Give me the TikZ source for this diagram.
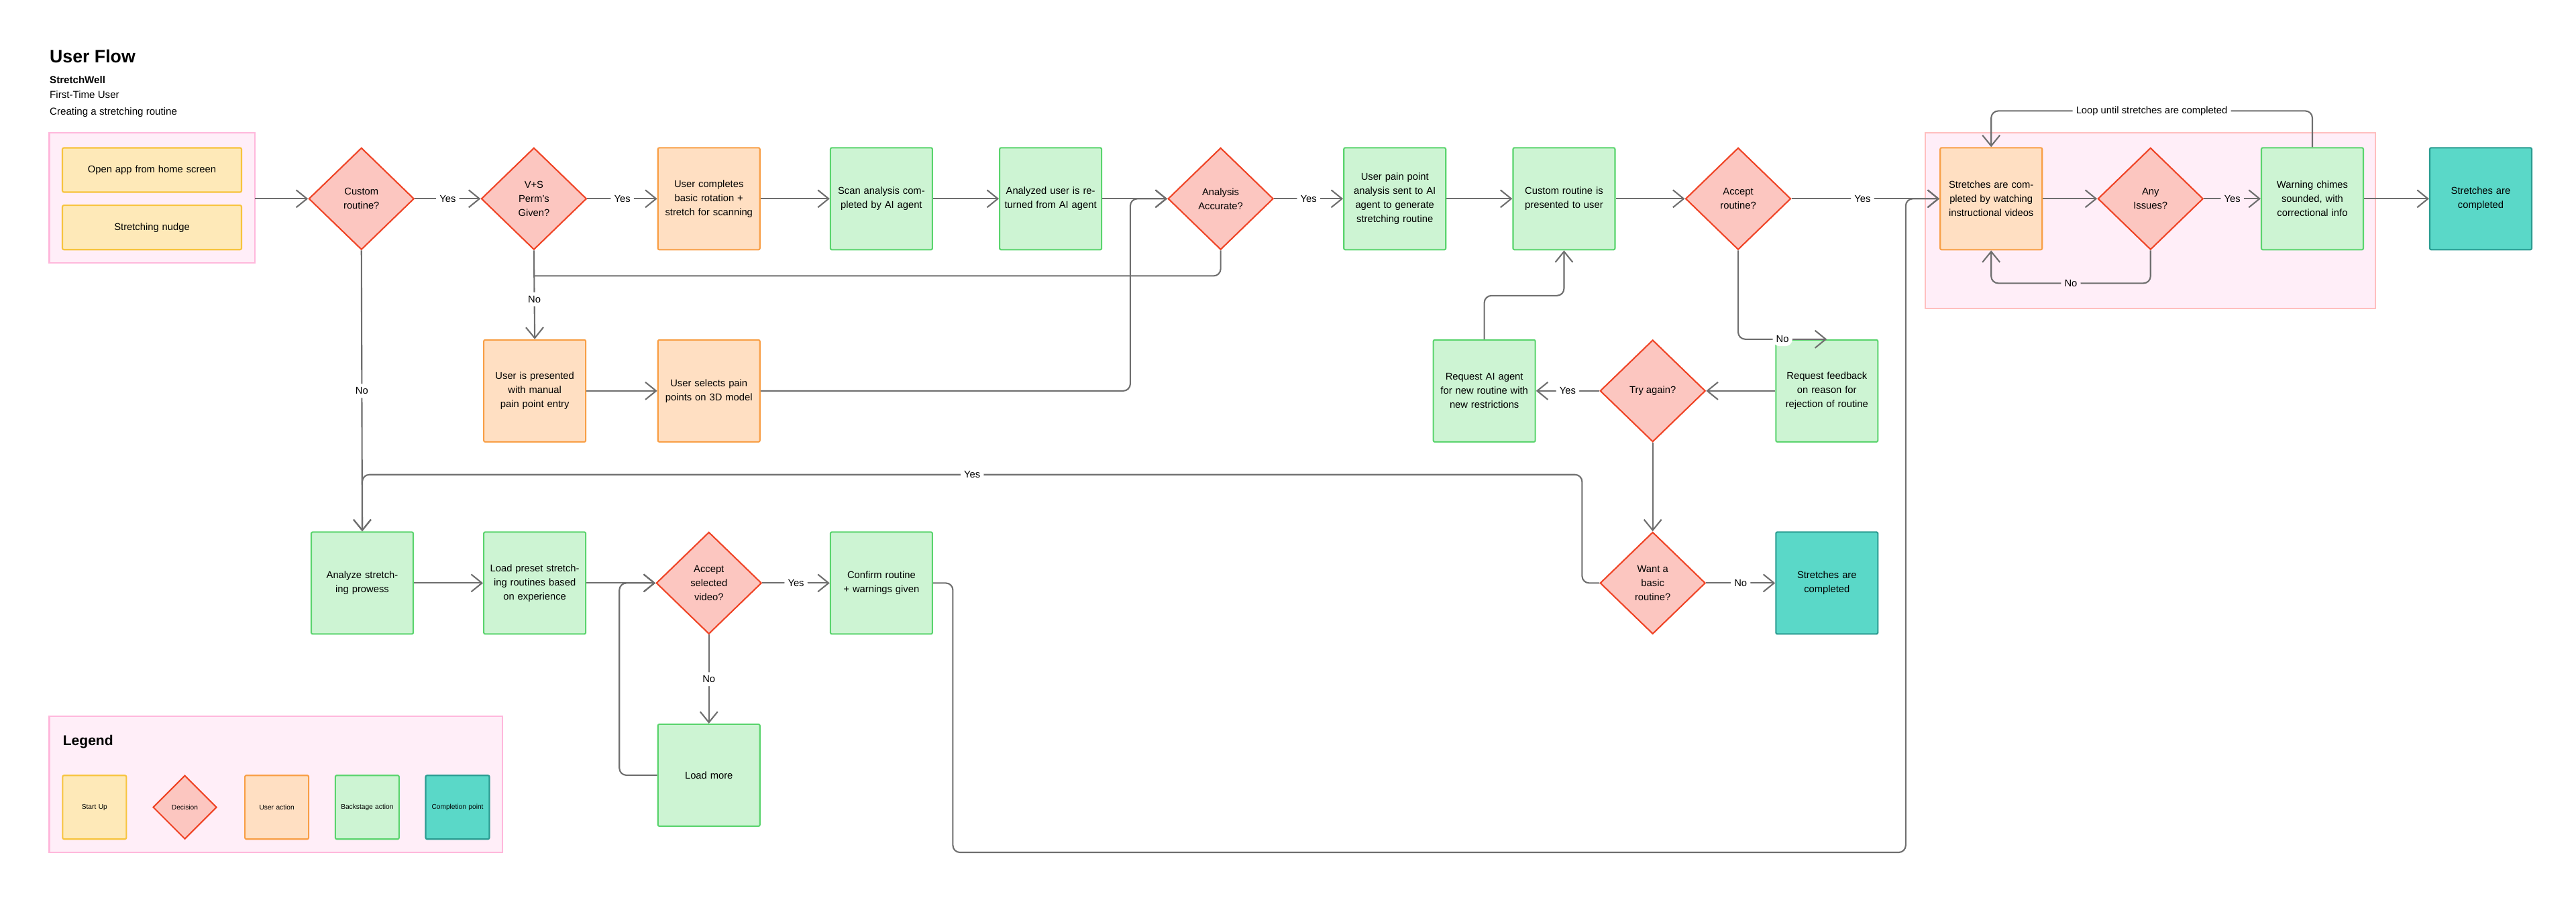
\documentclass[tikz,border=0pt]{standalone}
\usepackage{fontspec}
\setmainfont{Liberation Sans}
\usetikzlibrary{shapes.geometric,arrows.meta}
\definecolor{ylwfill}{HTML}{FEE9B8}\definecolor{ylwdraw}{HTML}{F7C43E}
\definecolor{decfill}{HTML}{FCC6C0}\definecolor{decdraw}{HTML}{EF4426}
\definecolor{usrfill}{HTML}{FFDFC2}\definecolor{usrdraw}{HTML}{F89F46}
\definecolor{bckfill}{HTML}{CDF4D3}\definecolor{bckdraw}{HTML}{5BD46E}
\definecolor{endfill}{HTML}{5AD8C8}\definecolor{enddraw}{HTML}{2A9C91}
\definecolor{grpfill}{HTML}{FFEEF8}\definecolor{grpdraw}{HTML}{FFB8DC}
\definecolor{linegray}{HTML}{6E6E6E}
\tikzset{
  txt/.style={font=\fontsize{4.2}{6}\selectfont, align=center},
  box/.style={txt, draw, line width=0.6pt, rounded corners=0.6pt, minimum width=1.52cm, minimum height=1.52cm, text width=1.38cm, inner sep=1pt},
  startup/.style={box, fill=ylwfill, draw=ylwdraw, minimum width=2.67cm, minimum height=0.66cm, text width=2.5cm},
  useract/.style={box, fill=usrfill, draw=usrdraw},
  backact/.style={box, fill=bckfill, draw=bckdraw},
  done/.style={box, fill=endfill, draw=enddraw},
  decision/.style={txt, diamond, draw=decdraw, fill=decfill, line width=0.6pt, minimum width=1.57cm, minimum height=1.52cm, inner sep=0pt},
  group/.style={draw=grpdraw, fill=grpfill, line width=0.6pt},
  flow/.style={draw=linegray, line width=0.6pt, rounded corners=3pt, -{Straight Barb[length=1.6mm,width=2.6mm]}},
  line/.style={draw=linegray, line width=0.6pt, rounded corners=3pt},
  lbl/.style={txt, fill=white, inner sep=1.5pt},
  legtxt/.style={font=\fontsize{2.9}{4.2}\selectfont, minimum width=0.95cm, minimum height=0.95cm, text width=0.85cm}
}
\begin{document}
\begin{tikzpicture}[x=0.02449cm, y=-0.02449cm]
  \useasboundingbox (0,0) rectangle (1568,549);

  % heading
  \node[anchor=base west, inner sep=0, font=\fontsize{7.6}{9}\selectfont\bfseries] at (30,38) {User Flow};
  \node[anchor=base west, inner sep=0, font=\fontsize{4.3}{5}\selectfont\bfseries] at (30,51) {StretchWell};
  \node[anchor=base west, inner sep=0, font=\fontsize{4.3}{5}\selectfont] at (30,60) {First-Time User};
  \node[anchor=base west, inner sep=0, font=\fontsize{4.3}{5}\selectfont] at (30,70) {Creating a stretching routine};

  % groups
  \draw[group] (30,81) rectangle (155,160);
  \coordinate (grpA) at (155,121);
  \draw[group, draw=red!25] (1172,81) rectangle (1446,188);

  % row 1
  \node[startup] (open) at (92.5,103.5) {Open app from home screen};
  \node[startup] (nudge) at (92.5,138.5) {Stretching nudge};
  \node[decision] (custom) at (220,121) {Custom\\routine?};
  \node[decision] (perms) at (325,121) {V+S\\Perm's\\Given?};
  \node[useract] (rotate) at (431.5,121) {User completes basic rotation + stretch for scanning};
  \node[backact] (scan) at (536.5,121) {Scan analysis completed by AI agent};
  \node[backact] (returned) at (639.5,121) {Analyzed user is returned from AI agent};
  \node[decision] (accurate) at (743,121) {Analysis\\Accurate?};
  \node[backact] (painsent) at (849,121) {User pain point analysis sent to AI agent to generate stretching routine};
  \node[backact] (presented) at (952,121) {Custom routine is presented to user};
  \node[decision] (accept) at (1058,121) {Accept\\routine?};
  \node[useract] (watch) at (1212,121) {Stretches are completed by watching instructional videos};
  \node[decision] (issues) at (1309,121) {Any\\Issues?};
  \node[backact] (chimes) at (1407.5,121) {Warning chimes sounded, with correctional info};
  \node[done] (finA) at (1510,121) {Stretches are completed};

  % row 2
  \node[useract] (manual) at (325.5,238) {User is presented with manual pain point entry};
  \node[useract] (select) at (431.5,238) {User selects pain points on 3D model};
  \node[backact] (request) at (903.5,238) {Request AI agent for new routine with new restrictions};
  \node[decision] (again) at (1006,238) {Try again?};
  \node[backact] (feedback) at (1112,238) {Request feedback on reason for rejection of routine};

  % row 3
  \node[backact] (prowess) at (220.5,355) {Analyze stretching prowess};
  \node[backact] (preset) at (325.5,355) {Load preset stretching routines based on experience};
  \node[decision] (video) at (431.5,355) {Accept\\selected\\video?};
  \node[backact] (confirm) at (536.5,355) {Confirm routine + warnings given};
  \node[decision] (basic) at (1006,355) {Want a\\basic\\routine?};
  \node[done] (finB) at (1112,355) {Stretches are completed};
  \node[backact] (more) at (431.5,472) {Load more};

  % connectors, top row
  \draw[flow] (grpA) -- (custom);
  \draw[flow] (custom) -- node[lbl] {Yes} (perms);
  \draw[flow] (perms) -- node[lbl] {Yes} (rotate);
  \draw[flow] (rotate) -- (scan);
  \draw[flow] (scan) -- (returned);
  \draw[flow] (returned) -- (accurate);
  \draw[flow] (accurate) -- node[lbl] {Yes} (painsent);
  \draw[flow] (painsent) -- (presented);
  \draw[flow] (presented) -- (accept);
  \draw[flow] (accept) -- node[lbl, pos=0.48] {Yes} (watch);
  \draw[flow] (watch) -- (issues);
  \draw[flow] (issues) -- node[lbl, fill=grpfill] {Yes} (chimes);
  \draw[flow] (chimes) -- (finA);
  \draw[flow] (chimes.north) -- ++(0,-22) -| node[lbl, pos=0.25] {Loop until stretches are completed} (watch.north);
  \draw[flow] (issues.south) -- ++(0,20) -| node[lbl, fill=grpfill, pos=0.25] {No} (watch.south);

  % scan failures
  \draw[flow] (perms.south) -- node[lbl, pos=0.55] {No} (manual.north);
  \draw[line] (accurate.south) |- (325,168);
  \draw[flow] (manual) -- (select);
  \draw[flow] (select.east) -| (688,121) -- (accurate.west);

  % rejection loop
  \draw[flow] (accept.south) |- node[lbl, pos=0.75] {No} (feedback.north);
  \draw[flow] (feedback) -- (again);
  \draw[flow] (again) -- node[lbl] {Yes} (request);
  \draw[flow] (request.north) |- (952,180) -- (presented.south);
  \draw[flow] (again) -- (basic);
  \draw[flow] (basic) -- node[lbl] {No} (finB);

  % preset branch
  \draw[flow] (custom.south) -- node[lbl] {No} (prowess.north);
  \draw[flow] (basic.west) -| (963,289) -- node[lbl] {Yes} (220.5,289) -- (prowess.north);
  \draw[flow] (prowess) -- (preset);
  \draw[flow] (preset) -- (video);
  \draw[flow] (video) -- node[lbl] {Yes} (confirm);
  \draw[flow] (video.south) -- node[lbl] {No} (more.north);
  \draw[flow] (more.west) -| (377,355) -- (video.west);
  \draw[flow] (confirm.east) -| (580,519) -| (1160,121) -- (watch.west);

  % legend
  \draw[group] (30,436) rectangle (306,519);
  \node[anchor=base west, inner sep=0, font=\fontsize{6}{7}\selectfont\bfseries] at (38,454) {Legend};
  \node[box, legtxt, fill=ylwfill, draw=ylwdraw] (lstart) at (57.5,491.5) {Start Up};
  \node[decision, font=\fontsize{2.9}{4.2}\selectfont, minimum width=0.95cm, minimum height=0.95cm] (ldec) at (112.5,491.5) {Decision};
  \node[box, legtxt, fill=usrfill, draw=usrdraw] (luser) at (168.5,491.5) {User action};
  \node[box, legtxt, fill=bckfill, draw=bckdraw] (lback) at (223.5,491.5) {Backstage action};
  \node[box, legtxt, fill=endfill, draw=enddraw] (lend) at (278.5,491.5) {Completion point};
\end{tikzpicture}
\end{document}
